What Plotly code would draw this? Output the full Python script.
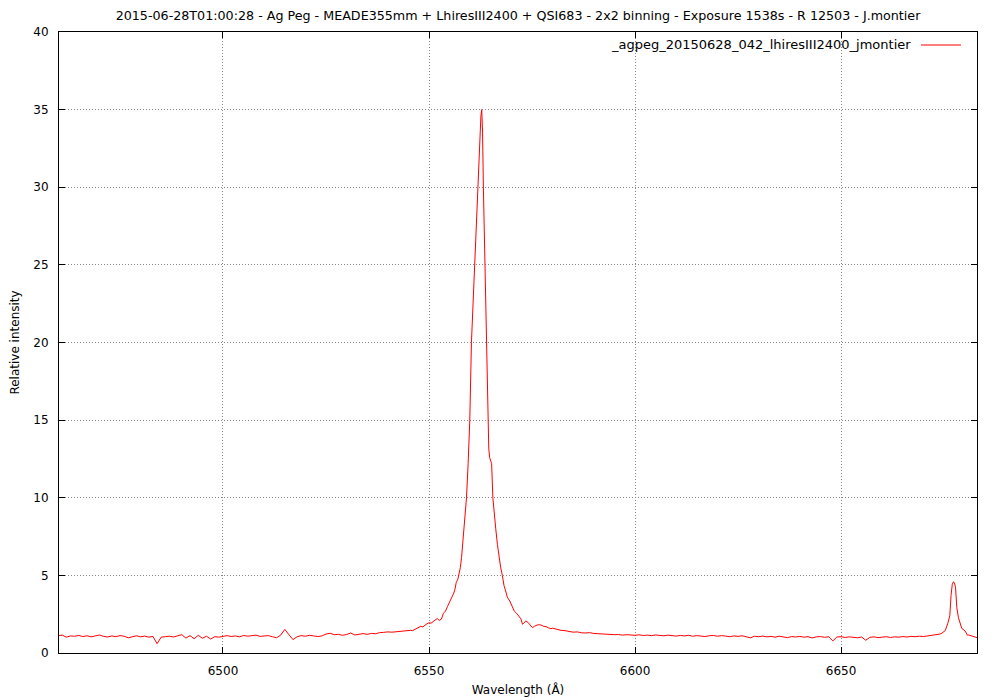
import plotly.graph_objects as go

# ---- data ----
wl_left = [6460, 6461, 6462, 6463, 6464, 6465, 6466, 6467, 6468, 6469,
           6470, 6471, 6472, 6473, 6474, 6475, 6476, 6477, 6478, 6479,
           6480, 6481, 6482, 6483, 6484, 6485, 6486, 6487, 6488, 6489,
           6490, 6491, 6492, 6493, 6494, 6495, 6496, 6497, 6498, 6499,
           6500, 6501, 6502, 6503, 6504, 6505, 6506, 6507, 6508, 6509,
           6510, 6511, 6512, 6513, 6514, 6515, 6516, 6517, 6518, 6519,
           6520, 6521, 6522, 6523, 6524, 6525, 6526, 6527, 6528, 6529,
           6530, 6531, 6532, 6533, 6534, 6535, 6536, 6537, 6538, 6539,
           6540, 6541, 6542, 6543, 6544, 6545, 6545.5, 6546, 6546.5, 6547,
           6547.5, 6548, 6548.5, 6549, 6549.5, 6550, 6550.5, 6551, 6551.5, 6552,
           6552.5]
fx_left = [1.12, 1.15, 1.02, 1.10, 1.08, 1.13, 1.06, 1.11, 1.04, 1.12,
           1.16, 1.07, 1.03, 1.10, 1.05, 1.12, 1.08, 0.98, 1.06, 1.11,
           1.04, 1.09, 1.02, 1.07, 0.60, 1.02, 1.05, 1.08, 1.03, 1.10,
           1.18, 0.96, 1.12, 0.92, 1.14, 0.95, 1.08, 0.90, 1.05, 1.02,
           1.08, 1.12, 1.06, 1.10, 1.04, 1.13, 1.08, 1.11, 1.15, 1.07,
           1.10, 1.12, 1.05, 0.98, 1.15, 1.52, 1.18, 0.86, 1.05, 1.12,
           1.08, 1.14, 1.10, 1.06, 1.10, 1.22, 1.27, 1.18, 1.20, 1.14,
           1.19, 1.29, 1.16, 1.22, 1.25, 1.20, 1.26, 1.24, 1.31, 1.33,
           1.36, 1.34, 1.37, 1.39, 1.40, 1.42, 1.46, 1.44, 1.50, 1.55,
           1.62, 1.72, 1.68, 1.80, 1.88, 1.95, 1.92, 2.02, 2.12, 2.22,
           2.10]

wl_peak = [6553.0, 6553.5, 6554.0, 6554.5, 6555.0, 6555.5, 6556.0, 6556.3, 6556.6, 6557.0,
           6557.3, 6557.6, 6557.9, 6558.2, 6558.5, 6558.8, 6559.1, 6559.5, 6559.9, 6560.3,
           6560.7, 6561.1, 6561.5, 6561.9, 6562.3, 6562.6, 6562.8, 6563.0, 6563.2, 6563.6,
           6563.9, 6564.2, 6564.5, 6564.7, 6565.0, 6565.2, 6565.5, 6565.8, 6566.2, 6566.6,
           6567.0, 6567.4, 6567.8, 6568.2, 6568.6, 6569.0, 6569.6, 6570.2, 6570.7, 6571.3,
           6571.9, 6572.3, 6572.7, 6573.1, 6573.5, 6574.0, 6574.5, 6575.1, 6575.6, 6576.2,
           6576.8, 6577.2, 6577.8, 6578.4, 6579.0, 6579.6, 6580.0]
fx_peak = [2.18, 2.55, 2.70, 3.00, 3.28, 3.50, 3.85, 4.10, 4.53, 4.75,
           5.05, 5.50, 6.15, 7.00, 8.10, 9.10, 10.0, 12.2, 15.0, 20.0,
           22.7, 25.7, 27.8, 30.0, 33.0, 34.6, 35.0, 33.5, 30.0, 24.0,
           20.0, 15.0, 13.2, 12.6, 12.3, 12.2, 10.0, 9.0, 8.0, 7.0,
           6.1, 5.5, 5.0, 4.35, 4.0, 3.60, 3.35, 3.00, 2.70, 2.55,
           2.38, 2.20, 1.85, 1.95, 2.06, 1.98, 1.85, 1.63, 1.72, 1.80,
           1.82, 1.80, 1.72, 1.70, 1.62, 1.57, 1.60]

wl_right = [6581, 6582, 6583, 6584, 6585, 6586, 6587, 6588, 6589, 6590,
            6591, 6592, 6593, 6594, 6595, 6596, 6597, 6598, 6599, 6600,
            6601, 6602, 6603, 6604, 6605, 6606, 6607, 6608, 6609, 6610,
            6611, 6612, 6613, 6614, 6615, 6616, 6617, 6618, 6619, 6620,
            6621, 6622, 6623, 6624, 6625, 6626, 6627, 6628, 6629, 6630,
            6631, 6632, 6633, 6634, 6635, 6636, 6637, 6638, 6639, 6640,
            6641, 6642, 6643, 6644, 6645, 6646, 6647, 6648, 6649, 6650,
            6651, 6652, 6653, 6654, 6655, 6656, 6657, 6658, 6659, 6660,
            6661, 6662, 6663, 6664, 6665, 6666, 6667, 6668, 6669, 6670,
            6671, 6672, 6673, 6673.5, 6674, 6674.5, 6675.3, 6675.9, 6676.4, 6676.7,
            6677.0, 6677.3, 6677.6, 6677.8, 6678.1, 6678.5, 6679.0, 6679.3, 6680.1, 6680.7,
            6681.0, 6681.6, 6682.0, 6683.0]
fx_right = [1.52, 1.46, 1.44, 1.38, 1.34, 1.36, 1.30, 1.29, 1.31, 1.26,
            1.24, 1.25, 1.21, 1.22, 1.18, 1.19, 1.15, 1.18, 1.16, 1.14,
            1.17, 1.13, 1.15, 1.12, 1.16, 1.13, 1.11, 1.15, 1.12, 1.09,
            1.13, 1.10, 1.14, 1.08, 1.12, 1.10, 1.06, 1.11, 1.13, 1.08,
            1.12, 1.09, 1.05, 1.10, 1.07, 1.11, 1.06, 0.98, 1.08, 1.05,
            1.09, 1.04, 1.07, 1.02, 1.08, 1.05, 0.99, 1.06, 1.03, 1.07,
            1.02, 1.05, 0.97, 1.04, 1.06, 1.01, 1.05, 0.78, 1.03, 1.05,
            1.00, 1.04, 1.02, 0.98, 1.03, 0.82, 1.01, 1.04, 0.99, 1.03,
            1.05, 1.00, 1.04, 1.02, 1.06, 1.03, 1.07, 1.05, 1.08, 1.06,
            1.10, 1.12, 1.15, 1.18, 1.22, 1.28, 1.45, 1.90, 2.40, 3.70,
            4.42, 4.59, 4.45, 4.20, 2.92, 2.27, 1.80, 1.59, 1.42, 1.14,
            1.16, 1.12, 1.10, 0.99]

wavelength = wl_left + wl_peak + wl_right
intensity = fx_left + fx_peak + fx_right

x_ticks = [6500, 6550, 6600, 6650]
y_ticks = [0, 5, 10, 15, 20, 25, 30, 35, 40]
series_name = "_agpeg_20150628_042_lhiresIII2400_jmontier"
title_text = ("2015-06-28T01:00:28 - Ag Peg - MEADE355mm + LhiresIII2400 + QSI683 - "
              "2x2 binning - Exposure 1538s - R 12503 - J.montier")

FONT = "DejaVu Sans"

fig = go.Figure()
fig.add_trace(go.Scatter(x=wavelength, y=intensity, mode="lines",
                         name=series_name,
                         line=dict(color="#ff0000", width=1),
                         showlegend=False))

axis_common = dict(
    showline=True, linecolor="black", linewidth=1, mirror="ticks",
    ticks="inside", ticklen=6, tickcolor="black", tickwidth=1,
    showgrid=True, gridcolor="#888888", gridwidth=1, griddash="1px,2px",
    zeroline=False, ticklabelstandoff=7, automargin=False,
    tickfont=dict(family=FONT, size=12, color="black"),
)

# the page adds an ~8px offset; the margins compensate so the plot box
# lands at x 59..977, y 31..652 as in the reference
fig.update_layout(
    width=1000, height=700,
    margin=dict(l=51, r=31, t=24, b=55),
    paper_bgcolor="white", plot_bgcolor="white",
    font=dict(family=FONT, size=12, color="black"),
    title=dict(text=title_text, x=(51 + 969) / 2 / 1000, xanchor="center",
               y=1 - 8 / 700, yanchor="middle", yref="container",
               font=dict(family=FONT, size=12.7, color="black")),
    xaxis=dict(range=[6460.2, 6683], tickvals=x_ticks,
               title=dict(text="Wavelength (Å)", standoff=8,
                          font=dict(family=FONT, size=12)),
               **axis_common),
    yaxis=dict(range=[0, 40], tickvals=y_ticks,
               title=dict(text="Relative intensity", standoff=16,
                          font=dict(family=FONT, size=12)),
               **axis_common),
    showlegend=False,
)

# gnuplot-style key: text followed by line sample, top right
fig.add_annotation(text=series_name, xref="paper", yref="paper",
                   x=(913 - 59) / 918, y=1 - (44 - 31) / 621,
                   xanchor="right", yanchor="middle", showarrow=False,
                   font=dict(family=FONT, size=13, color="black"))
fig.add_shape(type="line", xref="paper", yref="paper",
              x0=(921 - 59) / 918, x1=(961 - 59) / 918,
              y0=1 - (44 - 31) / 621, y1=1 - (44 - 31) / 621,
              line=dict(color="#ff0000", width=1))

fig.write_html("out.html")
